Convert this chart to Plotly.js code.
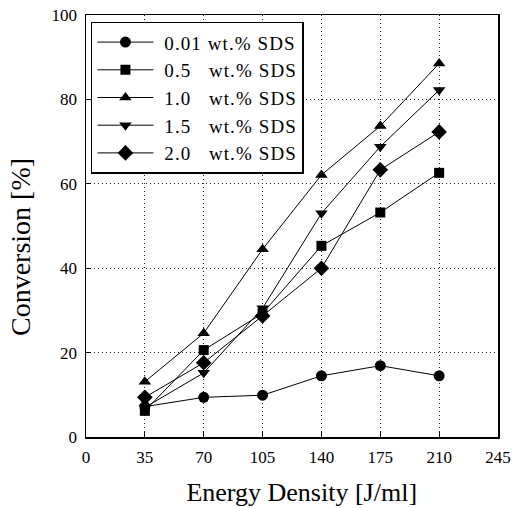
<!DOCTYPE html>
<html>
<head>
<meta charset="utf-8">
<script src="https://cdn.plot.ly/plotly-3.0.1.min.js"></script>
<style>html,body{margin:0;padding:0;background:#fff;}</style>
</head>
<body>
<div id="chart" style="width:521px;height:508px;"></div>
<script>
const energy = [35, 70, 105, 140, 175, 210];
const sds001 = [7.2, 9.4, 9.9, 14.5, 16.9, 14.5];
const sds05  = [6.2, 20.6, 29.3, 45.3, 53.2, 62.6];
const sds10  = [13.1, 24.6, 44.5, 62.1, 73.7, 88.5];
const sds15  = [7.0, 15.2, 30.5, 53.0, 68.8, 82.2];
const sds20  = [9.4, 17.6, 28.7, 40.0, 63.3, 72.3];
const names = ['0.01 wt.% SDS', '0.5&#160;&#160;&#160;wt.% SDS', '1.0&#160;&#160;&#160;wt.% SDS', '1.5&#160;&#160;&#160;wt.% SDS', '2.0&#160;&#160;&#160;wt.% SDS'];
const xTicks = [0, 35, 70, 105, 140, 175, 210, 245];
const yTicks = [0, 20, 40, 60, 80, 100];

const series = [sds001, sds05, sds10, sds15, sds20];
const symbols = ['circle', 'square', 'triangle-up', 'triangle-down', 'diamond'];
const sizes = [11, 10, 11, 11, 12];

const font = '"Liberation Serif", "Times New Roman", serif';
const traces = series.map((s, i) => ({
  x: energy, y: s, type: 'scatter', mode: 'lines+markers',
  name: '<span style="letter-spacing:1.1px">&#160;' + names[i] + '</span>',
  line: {color: '#000', width: 1},
  marker: {symbol: symbols[i], size: sizes[i], color: '#000'}
}));

const layout = {
  width: 521, height: 508,
  margin: {l: 86, r: 23, t: 15, b: 71},
  paper_bgcolor: '#fff', plot_bgcolor: '#fff',
  font: {family: font, color: '#000', size: 17},
  showlegend: true,
  legend: {
    x: 0.012, y: 0.984, xanchor: 'left', yanchor: 'top',
    bordercolor: '#000', borderwidth: 1.5, bgcolor: '#fff',
    font: {family: font, size: 19, color: '#000'},
    itemwidth: 56, tracegroupgap: 0
  },
  xaxis: {
    range: [0, 245], tickvals: xTicks, ticktext: xTicks.map(String),
    showgrid: true, gridcolor: '#222', griddash: '1px,3px', gridwidth: 1,
    zeroline: false, showline: true, linecolor: '#000', linewidth: 1.5, mirror: true,
    ticks: 'inside', ticklen: 5, tickcolor: '#000', ticklabelstandoff: 4,
    tickfont: {family: font, size: 17},
    title: {text: '&#160;&#160;&#160;Energy Density [J/ml]', font: {family: font, size: 26}, standoff: 17}
  },
  yaxis: {
    range: [0, 100], tickvals: yTicks, ticktext: yTicks.map(String),
    showgrid: true, gridcolor: '#222', griddash: '1px,3px', gridwidth: 1,
    zeroline: false, showline: true, linecolor: '#000', linewidth: 1.5, mirror: true,
    ticks: 'inside', ticklen: 5, tickcolor: '#000', ticklabelstandoff: 4,
    tickfont: {family: font, size: 17},
    title: {text: 'Conversion [%]&#160;&#160;&#160;&#160;&#160;&#160;', font: {family: font, size: 28}, standoff: 13}
  }
};

Plotly.newPlot('chart', traces, layout, {displayModeBar: false, staticPlot: true});
</script>
</body>
</html>
